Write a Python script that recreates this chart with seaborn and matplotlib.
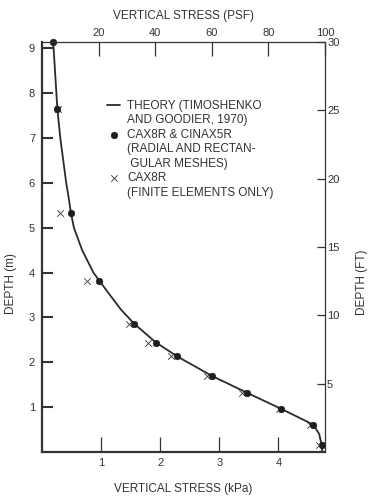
import matplotlib
matplotlib.use("Agg")
import matplotlib.pyplot as plt
from matplotlib.lines import Line2D
import seaborn as sns

# --- data (stress in kPa, depth in m) ---
theory_kpa = [0.19, 0.26, 0.31, 0.36, 0.41, 0.455, 0.49, 0.54, 0.68, 0.87, 0.97, 1.15, 1.34, 1.56,
              1.93, 2.29, 2.87, 3.47, 4.05, 4.59, 4.69, 4.73, 4.74]
theory_depth = [9.14, 7.65, 7.00, 6.50, 6.00, 5.64, 5.33, 5.00, 4.50, 4.00, 3.82, 3.50, 3.17, 2.86,
                2.44, 2.13, 1.70, 1.32, 0.96, 0.61, 0.40, 0.16, 0.0]

mesh_kpa = [0.19, 0.26, 0.49, 0.97, 1.56, 1.93, 2.29, 2.87, 3.47, 4.05, 4.59, 4.73]
mesh_depth = [9.14, 7.65, 5.33, 3.82, 2.86, 2.44, 2.13, 1.70, 1.32, 0.96, 0.61, 0.16]

fe_kpa = [0.27, 0.31, 0.76, 1.47, 1.79, 2.18, 2.80, 3.38, 4.01, 4.54, 4.68]
fe_depth = [7.65, 5.33, 3.82, 2.86, 2.44, 2.13, 1.70, 1.32, 0.96, 0.61, 0.16]

kpa_ticks = [1, 2, 3, 4]
psf_ticks = [20, 40, 60, 80, 100]
m_ticks = [1, 2, 3, 4, 5, 6, 7, 8, 9]
ft_ticks = [5, 10, 15, 20, 25, 30]

legend_labels = [
    "THEORY (TIMOSHENKO", "AND GOODIER, 1970)",
    "CAX8R & CINAX5R", "(RADIAL AND RECTAN-", " GULAR MESHES)",
    "CAX8R", "(FINITE ELEMENTS ONLY)",
]

dark = "#333333"
sns.set_style("ticks")
plt.rcParams["font.family"] = ["Liberation Sans", "DejaVu Sans"]
plt.rcParams["font.size"] = 8
plt.rcParams["axes.labelsize"] = 8.5
plt.rcParams["text.color"] = dark
plt.rcParams["axes.labelcolor"] = dark
plt.rcParams["xtick.color"] = dark
plt.rcParams["ytick.color"] = dark
plt.rcParams["axes.edgecolor"] = dark

fig = plt.figure(figsize=(3.76, 4.98), dpi=100)
ax = fig.add_axes([42 / 376, 46 / 498, 283 / 376, 410 / 498])

sns.lineplot(x=theory_kpa, y=theory_depth, sort=False, estimator=None,
             color="#2a2a2a", lw=1.3, ax=ax, label="theory")
sns.scatterplot(x=mesh_kpa, y=mesh_depth, color="#1e1e1e", marker="o", s=24,
                edgecolor="#1e1e1e", linewidth=0.3, ax=ax, clip_on=False, zorder=4,
                label="mesh")
sns.scatterplot(x=fe_kpa, y=fe_depth, color=dark, marker="x", s=22,
                linewidth=0.6, ax=ax, zorder=3, label="fe")

ax.set_xlim(0, 4.788)
ax.set_ylim(0, 9.144)
ax.set_xticks(kpa_ticks)
ax.set_yticks(m_ticks)
ax.tick_params(axis="x", direction="in", length=11, width=0.9, pad=4)
ax.tick_params(axis="y", direction="in", length=8, width=1.5, pad=5)
ax.set_xlabel("VERTICAL STRESS (kPa)", labelpad=11)
ax.set_ylabel("DEPTH (m)")
ax.yaxis.set_label_coords(-0.087, 0.41)
for s in ["left", "bottom"]:
    ax.spines[s].set_linewidth(1.6)
for s in ["top", "right"]:
    ax.spines[s].set_visible(False)

ax_top = ax.twiny()
ax_top.set_xlim(0, 100)
ax_top.set_xticks(psf_ticks)
ax_top.tick_params(axis="x", direction="in", length=10, width=0.9, pad=3)
ax_top.set_xlabel("VERTICAL STRESS (PSF)", labelpad=6)
for s in ["left", "bottom", "right"]:
    ax_top.spines[s].set_visible(False)
ax_top.spines["top"].set_linewidth(0.9)

ax_right = ax.twinx()
ax_right.set_ylim(0, 30)
ax_right.set_yticks(ft_ticks)
ax_right.tick_params(axis="y", direction="in", length=6, width=0.9, pad=1.5)
ax_right.set_ylabel("DEPTH (FT)")
ax_right.yaxis.set_label_coords(1.11, 0.415)
for s in ["left", "bottom", "top"]:
    ax_right.spines[s].set_visible(False)
ax_right.spines["right"].set_linewidth(0.9)

handles, _ = ax.get_legend_handles_labels()
blank = Line2D([], [], linestyle="none")
ax.legend([handles[0], blank, handles[1], blank, blank, handles[2], blank],
          legend_labels, loc="upper left", bbox_to_anchor=(0.229, 0.859),
          frameon=False, borderpad=0, borderaxespad=0, handlelength=1.15,
          handletextpad=0.55, labelspacing=0.21, fontsize=8.5)

fig.savefig("out.png", dpi=100)
